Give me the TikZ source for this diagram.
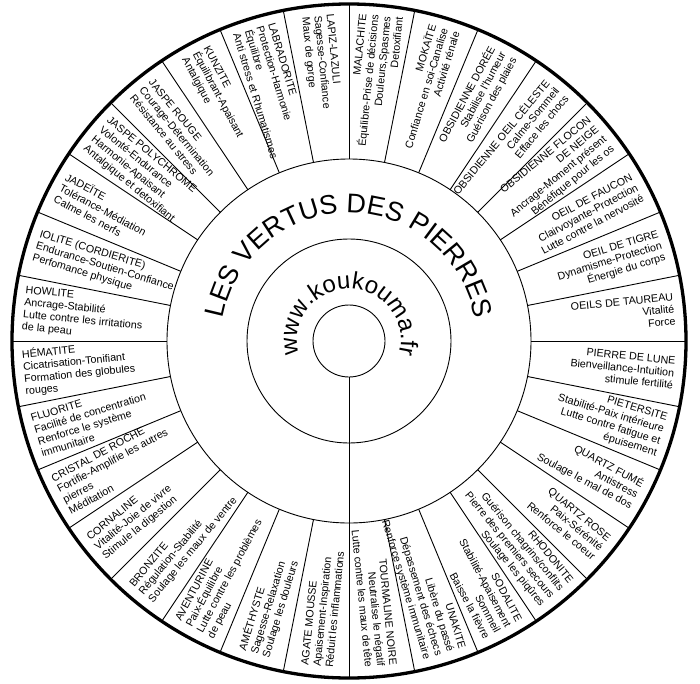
\documentclass[tikz,border=0pt]{standalone}
\usepackage{fontspec}
\setmainfont{Liberation Sans}
\usetikzlibrary{decorations.text}
\newcommand\segfont{\fontsize{10.7}{12.2}\selectfont}
% right half: #1 mid angle, #2 name, #3 text
\newcommand\rseg[3]{\node[rlab, rotate=#1] (#2) at (#1:327) {#3};}
% left half: #1 mid angle, #2 rotation, #3 name, #4 text
\newcommand\lseg[4]{\node[llab, rotate=#2] (#3) at (#1:327) {#4};}
\begin{document}
\begin{tikzpicture}[x=1pt,y=1pt,
  thinline/.style={line width=0.9pt},
  rimline/.style={line width=3.3pt},
  rlab/.style={anchor=east, align=right, font=\segfont, inner sep=0pt},
  llab/.style={anchor=west, align=left, font=\segfont, inner sep=0pt}]
\useasboundingbox (-349,-342) rectangle (351,341);
\fill[white] (-349,-342) rectangle (351,341);
\coordinate (c) at (0,0);
% circles
\draw[thinline] (c) circle[radius=36];
\draw[thinline] (c) circle[radius=102];
\draw[thinline] (c) circle[radius=182];
% segment boundaries
\foreach \a in {0,11.25,...,350} \draw[thinline] (\a:182) -- (\a:337);
\draw[thinline] (270:36) -- (270:182);
% curved titles
\path[decorate, decoration={text along path, text align=center,
  text={|\fontsize{27}{27}\selectfont|LES VERTUS DES PIERRES}}]
  (180:128) arc[start angle=180, end angle=0, radius=128];
\path[decorate, decoration={text along path, text align=center,
  text={|\fontsize{24}{24}\selectfont|www.koukouma.fr}}]
  (205:52) arc[start angle=205, end angle=-25, radius=52];
% right half
\rseg{84.375}{malachite}{MALACHITE\\Équilibre-Prise de décisions\\Douleurs,Spasmes\\Detoxifiant}
\rseg{73.125}{mokaite}{MOKAÏTE\\Confiance en soi-Canalise\\Activité rénale}
\rseg{61.875}{obsdoree}{OBSIDIENNE DORÉE\\Stabilise l'humeur\\Guérison des plaies}
\rseg{50.625}{obsceleste}{OBSIDIENNE OEIL CÉLESTE\\Calme-Sommeil\\Efface les chocs}
\rseg{39.375}{obsflocon}{OBSIDIENNE FLOCON\\DE NEIGE\\Ancrage-Moment présent\\Bénéfique pour les os}
\rseg{28.125}{faucon}{OEIL DE FAUCON\\Clairvoyante-Protection\\Lutte contre la nervosité}
\rseg{16.875}{tigre}{OEIL DE TIGRE\\Dynamisme-Protection\\Énergie du corps}
\rseg{5.625}{taureau}{OEILS DE TAUREAU\\Vitalité\\Force}
\rseg{-5.625}{lune}{PIERRE DE LUNE\\Bienveillance-Intuition\\stimule fertilité}
\rseg{-16.875}{pietersite}{PIETERSITE\\Stabilité-Paix intérieure\\Lutte contre fatigue et\\épuisement}
\rseg{-28.125}{qfume}{QUARTZ FUMÉ\\Antistress\\Soulage le mal de dos}
\rseg{-39.375}{qrose}{QUARTZ ROSE\\Paix-Sérénité\\Renforce le coeur}
\rseg{-50.625}{rhodonite}{RHODONITE\\Guérison chagrins/conflits\\Pierre des premiers secours\\Soulage les piqûres}
\rseg{-61.875}{sodalite}{SODALITE\\Stabilité-Apaisement\\Sommeil\\Baisse la fièvre}
\rseg{-73.125}{unakite}{UNAKITE\\Libère du passé\\Dépassement des échecs\\Renforce système immunitaire}
\rseg{-84.375}{tourmaline}{TOURMALINE NOIRE\\Neutralise le négatif\\Lutte contre les maux de tête}
% left half
\lseg{-95.625}{84.375}{agate}{AGATE MOUSSE\\Apaisement-Inspiration\\Réduit les inflammations}
\lseg{-106.875}{73.125}{amethyste}{AMÉTHYSTE\\Sagesse-Relaxation\\Soulage les douleurs}
\lseg{-118.125}{61.875}{aventurine}{AVENTURINE\\Paix-Équilibre\\Lutte contre les problèmes\\de peau}
\lseg{-129.375}{50.625}{bronzite}{BRONZITE\\Régulation-Stabilité\\Soulage les maux de ventre}
\lseg{-140.625}{39.375}{cornaline}{CORNALINE\\Vitalité-Joie de vivre\\Stimule la digestion}
\lseg{-151.875}{28.125}{cristal}{CRISTAL DE ROCHE\\Fortifie-Amplifie les autres\\pierres\\Méditation}
\lseg{-163.125}{16.875}{fluorite}{FLUORITE\\Facilité de concentration\\Renforce le système\\immunitaire}
\lseg{-174.375}{5.625}{hematite}{HÉMATITE\\Cicatrisation-Tonifiant\\Formation des globules\\rouges}
\lseg{174.375}{-5.625}{howlite}{HOWLITE\\Ancrage-Stabilité\\Lutte contre les irritations\\de la peau}
\lseg{163.125}{-16.875}{iolite}{IOLITE (CORDIERITE)\\Endurance-Soutien-Confiance\\Perfomance physique}
\lseg{151.875}{-28.125}{jadeite}{JADEÏTE\\Tolérance-Médiation\\Calme les nerfs}
\lseg{140.625}{-39.375}{jpoly}{JASPE POLYCHROME\\Volonté-Endurance\\Harmonie-Apaisant\\Antalgique et detoxifiant}
\lseg{129.375}{-50.625}{jrouge}{JASPE ROUGE\\Courage-Détermination\\Résistance au stress}
\lseg{118.125}{-61.875}{kunzite}{KUNZITE\\Équilibrant-Apaisant\\Antalgique}
\lseg{106.875}{-73.125}{labradorite}{LABRADORITE\\Protection-Harmonie\\Équilibre\\Anti stress et Rhumatismes}
\lseg{95.625}{-84.375}{lapiz}{LAPIZ-LAZULI\\Sagesse-Confiance\\Maux de gorge}
% outer rim
\draw[rimline] (c) circle[radius=337];
\end{tikzpicture}
\end{document}
